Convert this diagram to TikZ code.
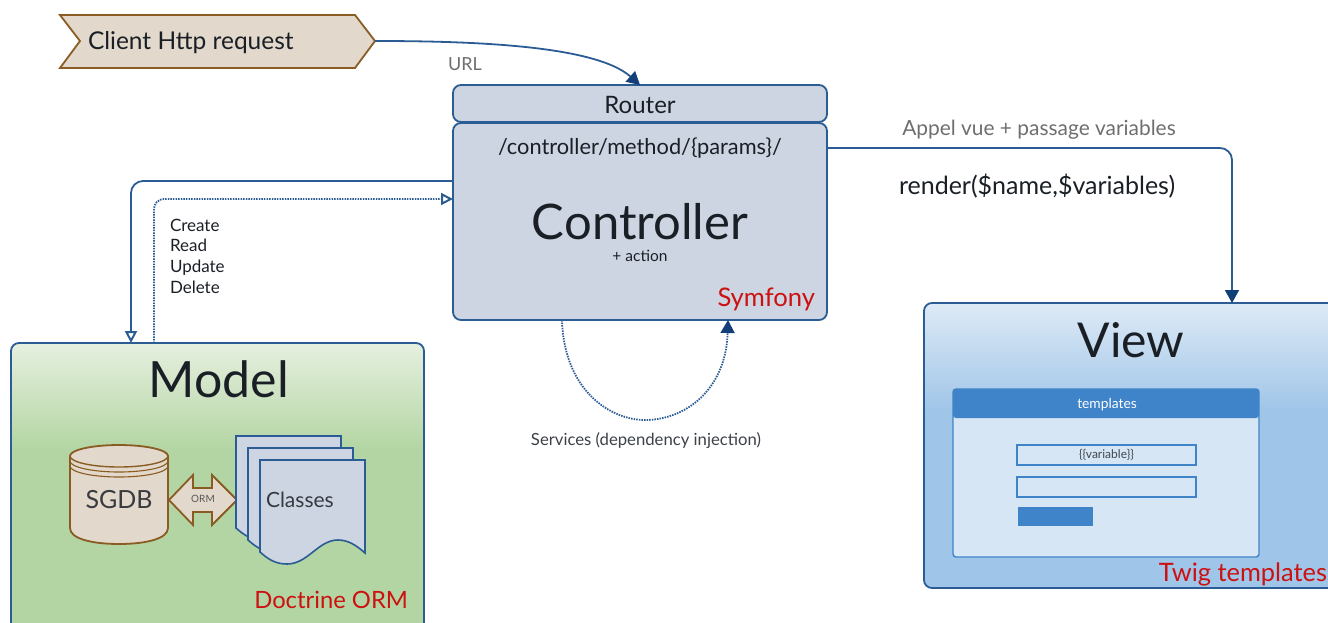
\documentclass[tikz,border=0pt]{standalone}
\usepackage{fontspec}
\setmainfont{Lato}
\usetikzlibrary{arrows.meta,calc}
\definecolor{edgeblue}{HTML}{2B5C94}
\definecolor{arrowblue}{HTML}{123F78}
\definecolor{boxfill}{HTML}{CDD5E2}
\definecolor{tanfill}{HTML}{E2D8CB}
\definecolor{tanedge}{HTML}{8A5C23}
\definecolor{greenlight}{HTML}{E6F0DF}
\definecolor{greenmain}{HTML}{B3D5A3}
\definecolor{bluelight}{HTML}{DEEAF6}
\definecolor{bluemain}{HTML}{9FC5E8}
\definecolor{tplblue}{HTML}{3F84C8}
\definecolor{tplbody}{HTML}{D6E6F4}
\definecolor{redlabel}{HTML}{CC1111}
\definecolor{inktext}{HTML}{1A1F26}
\definecolor{greytext}{HTML}{6E6E6E}
\pgfdeclareverticalshading{modelshade}{100bp}{color(0bp)=(greenmain); color(57bp)=(greenmain); color(75bp)=(greenlight); color(100bp)=(greenlight)}
\pgfdeclareverticalshading{viewshade}{100bp}{color(0bp)=(bluemain); color(56bp)=(bluemain); color(75bp)=(bluelight); color(100bp)=(bluelight)}
\tikzset{
  every node/.style={inner sep=0pt,outer sep=0pt,text=inktext},
  panel/.style={draw=edgeblue,line width=1.8pt,rounded corners=8pt,anchor=north west},
  txt/.style={font=\fontsize{#1}{#1}\selectfont},
  wire/.style={draw=edgeblue,line width=1.8pt,rounded corners=12pt},
  dotwire/.style={draw=edgeblue,line width=1.8pt,dash pattern=on 1.5pt off 1.1pt},
  solidtip/.style={-{Triangle[length=13pt,width=14pt,fill=arrowblue,color=arrowblue]}},
  opentip/.style={-{Triangle[length=12pt,width=12pt,fill=white,color=edgeblue,line width=2pt]}},
  doc/.style={draw=edgeblue,line width=1.6pt,fill=boxfill,line join=miter},
  tan/.style={draw=tanedge,line width=1.8pt,fill=tanfill},
}
\newcommand{\docpage}[2]{%
  \begin{scope}[shift={(#1,#2)}]
  \path[doc] (0,0) -- (105,0) -- (105,93)
    .. controls (96,85) and (88,80) .. (78,80)
    .. controls (58,80) and (48,104) .. (27,104)
    .. controls (15,104) and (8,99) .. (0,92) -- cycle;
  \end{scope}
}
\begin{document}
\begin{tikzpicture}[x=1pt,y=-1pt]
\useasboundingbox (0,0) rectangle (1328,622);
\clip (0,0) rectangle (1328,622);

% client shape
\path[tan] (60,15) -- (355,15) -- (375,41) -- (355,68) -- (60,68) -- (80,41) -- cycle;
\node[txt=24.5,anchor=west] (client) at (88,43) {Client Http request};
\coordinate (clienttip) at (375,41);

% router and controller
\node[panel,fill=boxfill,minimum width=374pt,minimum height=37pt] (router) at (453,85) {};
\node[txt=24] (rlabel) at (640,105) {Router};
\node[panel,fill=boxfill,minimum width=374pt,minimum height=197pt] (ctrl) at (453,123) {};
\node[txt=21.8] (route) at (640,148) {/controller/method/\{params\}/};
\node[txt=49] (ctitle) at (640,222) {Controller};
\node[txt=15.5] (action) at (640,256) {+ action};
\node[txt=25.6,text=redlabel,anchor=east] (symf) at (815,299) {Symfony};

% model
\node[panel,shading=modelshade,minimum width=413pt,minimum height=297pt] (model) at (11,343) {};
\node[txt=50] (mtitle) at (219,379) {Model};
\node[txt=23.8,text=redlabel,anchor=east] (doct) at (408,600) {Doctrine ORM};

% cylinder
\path[tan] (70,456) arc[start angle=180,end angle=360,x radius=49,y radius=11]
  -- (168,528) .. controls (168,539) and (145,544) .. (119,544)
  .. controls (93,544) and (70,539) .. (70,528) -- cycle;
\path[draw=tanedge,line width=1.4pt] (70,456) arc[start angle=180,end angle=0,x radius=49,y radius=11];
\path[draw=tanedge,line width=1.1pt] (70,461) arc[start angle=180,end angle=0,x radius=49,y radius=11];
\path[draw=tanedge,line width=1.1pt] (70,466) arc[start angle=180,end angle=0,x radius=49,y radius=11];
\node[txt=25,text=inktext!85!tanfill] (sgdb) at (119,500) {SGDB};

% ORM arrow
\path[tan] (169,500) -- (193,475) -- (193,488) -- (212,488) -- (212,475) -- (237,500)
  -- (212,525) -- (212,512) -- (193,512) -- (193,525) -- cycle;
\node[txt=10,text=greytext!80!black] (ormlab) at (203,499) {ORM};

% documents
\docpage{236}{436}
\docpage{248}{448}
\docpage{260}{460}
\node[txt=21,text=inktext!85!boxfill,anchor=west] (classes) at (266,500) {Classes};

% view
\node[panel,shading=viewshade,minimum width=416pt,minimum height=285pt] (view) at (924,303) {};
\node[txt=48] (vtitle) at (1131,340) {View};
\node[txt=25.4,text=redlabel,anchor=east] (twig) at (1327,574) {Twig templates};

% template window
\node[draw=tplblue,line width=1.4pt,fill=tplbody,rounded corners=3pt,anchor=north west,minimum width=306pt,minimum height=168pt] (win) at (953,389) {};
\path[fill=tplblue,rounded corners=3pt] (953,418) -- (953,389) -- (1259,389) -- (1259,418) -- cycle;
\node[txt=13.8,text=white] (wint) at (1107,405) {templates};
\node[draw=tplblue,line width=1.6pt,anchor=north west,minimum width=179pt,minimum height=20pt,txt=12,text=inktext!80!tplbody] (in1) at (1017,445) {\{\{variable\}\}};
\node[draw=tplblue,line width=1.6pt,anchor=north west,minimum width=179pt,minimum height=20pt] (in2) at (1017,477) {};
\node[fill=tplblue,anchor=north west,minimum width=75pt,minimum height=19pt] (btn) at (1018,507) {};

% connectors
\draw[draw=edgeblue,line width=1.8pt,solidtip] (clienttip) .. controls (470,41) and (595,45) .. (router.north);
\draw[wire,solidtip] (ctrl.east |- 0,148) -- (1232,148) -- (view.north -| 1232,0);
\draw[wire,opentip] (ctrl.west |- 0,181) -- (131,181) -- (model.north -| 131,0);
\draw[dotwire,rounded corners=10pt,opentip] (model.north -| 154,0) -- (154,199) -- (ctrl.west |- 0,199);
\draw[dotwire,solidtip] (ctrl.south -| 562,0) .. controls (564,390) and (610,420) .. (645,420)
   .. controls (685,420) and (726,390) .. (ctrl.south -| 728,0);

% labels
\node[txt=18,text=greytext] (url) at (465,64) {URL};
\node[txt=20.9,text=greytext] (appel) at (1039,130) {Appel vue + passage variables};
\node[txt=25,anchor=west] (render) at (899,186) {render(\$name,\$variables)};
\node[txt=17,anchor=north west,align=left] (crud) at (170,219) {Create\\[3.6pt]Read\\[3.6pt]Update\\[3.6pt]Delete};
\node[txt=16.7,text=inktext!85!white] (serv) at (646,441) {Services (dependency injection)};
\end{tikzpicture}
\end{document}
